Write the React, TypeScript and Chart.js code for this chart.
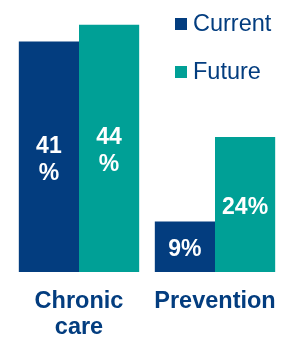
import React, { useEffect, useRef } from "react";
import { Chart, registerables } from "chart.js";

Chart.register(...registerables);

const categories: string[][] = [["Chronic", "care"], ["Prevention"]];
const seriesNames = ["Current", "Future"];
const currentValues = [41, 9];
const futureValues = [44, 24];
const currentLabels: string[][] = [["41", "%"], ["9%"]];
const futureLabels: string[][] = [["44", "%"], ["24%"]];

const NAVY = "#033D7F";
const TEAL = "#00A096";
const FONT = "'Liberation Sans', Arial, Helvetica, sans-serif";

const valueLabels = [currentLabels, futureLabels];

const barLabelPlugin = {
  id: "barLabels",
  afterDatasetsDraw(chart: any) {
    const ctx = chart.ctx;
    ctx.save();
    ctx.fillStyle = "#FFFFFF";
    ctx.font = `bold 23px ${FONT}`;
    ctx.textAlign = "center";
    ctx.textBaseline = "middle";
    const lh = 27;
    chart.data.datasets.forEach((ds: any, di: number) => {
      const meta = chart.getDatasetMeta(di);
      meta.data.forEach((el: any, i: number) => {
        const lines = valueLabels[di][i];
        const cy = (el.y + el.base) / 2 + 3;
        const start = cy - ((lines.length - 1) * lh) / 2;
        lines.forEach((t: string, k: number) => {
          ctx.fillText(t, el.x, start + k * lh);
        });
      });
    });
    ctx.restore();
  },
};

const categoryLabelPlugin = {
  id: "categoryLabels",
  afterDraw(chart: any) {
    const ctx = chart.ctx;
    const xScale = chart.scales.x;
    const bottom = chart.chartArea.bottom;
    ctx.save();
    ctx.fillStyle = NAVY;
    ctx.font = `bold 23.5px ${FONT}`;
    ctx.textAlign = "center";
    ctx.textBaseline = "middle";
    const lh = 26;
    (chart.data.labels as string[][]).forEach((lines, i) => {
      const x = xScale.getPixelForValue(i);
      lines.forEach((t, k) => {
        ctx.fillText(t, x, bottom + 30 + k * lh);
      });
    });
    ctx.restore();
  },
};

const legendPlugin = {
  id: "customLegend",
  afterDraw(chart: any) {
    const ctx = chart.ctx;
    ctx.save();
    ctx.font = `23.5px ${FONT}`;
    ctx.textAlign = "left";
    ctx.textBaseline = "middle";
    const x0 = chart.width - 108;
    const rowY = [24, 72];
    chart.data.datasets.forEach((ds: any, i: number) => {
      const y = rowY[i];
      ctx.fillStyle = ds.backgroundColor;
      ctx.fillRect(x0, y - 6, 12, 12);
      ctx.fillStyle = NAVY;
      ctx.fillText(ds.label, x0 + 18, y + 1);
    });
    ctx.restore();
  },
};

export default function App() {
  const ref = useRef<HTMLCanvasElement | null>(null);
  useEffect(() => {
    if (!ref.current) return;
    const chart = new Chart(ref.current, {
      type: "bar",
      data: {
        labels: categories,
        datasets: [
          { label: seriesNames[0], data: currentValues, backgroundColor: NAVY, borderWidth: 0 },
          { label: seriesNames[1], data: futureValues, backgroundColor: TEAL, borderWidth: 0 },
        ],
      },
      options: {
        animation: false,
        responsive: false,
        maintainAspectRatio: false,
        layout: { padding: { left: 11, right: -3, top: 0, bottom: 66 } },
        datasets: { bar: { categoryPercentage: 0.885, barPercentage: 1 } },
        plugins: { legend: { display: false }, tooltip: { enabled: false } },
        scales: {
          x: {
            grid: { display: false, drawTicks: false },
            border: { display: false },
            ticks: { display: false },
          },
          y: { display: false, min: 0, max: 48.4 },
        },
      } as any,
      plugins: [barLabelPlugin, categoryLabelPlugin, legendPlugin],
    });
    return () => chart.destroy();
  }, []);
  return (
    <div style={{ position: "fixed", left: 0, top: 0, width: 283, height: 338, background: "#fff" }}>
      <canvas ref={ref} width={283} height={338} style={{ display: "block" }} />
    </div>
  );
}
